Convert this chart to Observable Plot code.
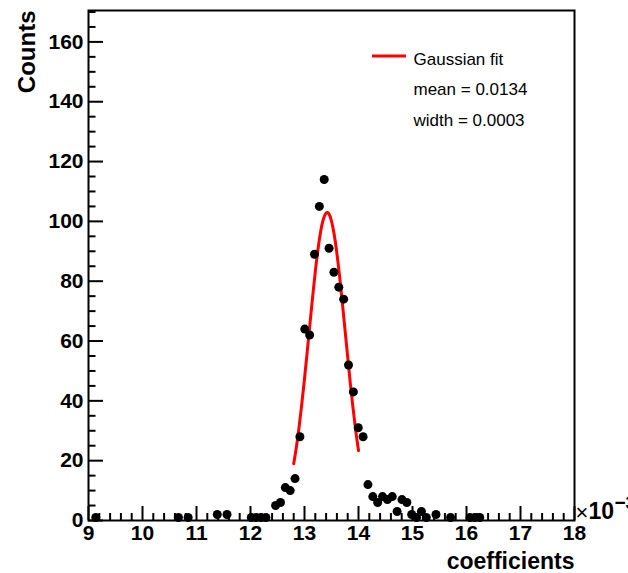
<!DOCTYPE html>
<html>
<head>
<meta charset="utf-8">
<script src="https://cdn.jsdelivr.net/npm/d3@7"></script>
<script src="https://cdn.jsdelivr.net/npm/@observablehq/plot@0.6"></script>
<style>
  html, body { margin: 0; padding: 0; background: #fff; }
  #chart svg { display: block; }
</style>
</head>
<body>
<div id="chart"></div>
<script>
// Histogram bin centres (x 10^-3) and counts
const binCenters = [9.135, 10.665, 10.845, 11.385, 11.565,
  12.015, 12.105, 12.195, 12.285, 12.465, 12.555, 12.645, 12.735, 12.825,
  12.915, 13.005, 13.095, 13.185, 13.275, 13.365, 13.455, 13.545, 13.635,
  13.725, 13.815, 13.905, 13.995, 14.085, 14.175, 14.265, 14.355, 14.445,
  14.535, 14.625, 14.715, 14.805, 14.895, 14.985, 15.075, 15.165, 15.255,
  15.435, 15.705, 16.065, 16.155, 16.245];
const counts = [1, 1, 1, 2, 2,
  1, 1, 1, 1, 5, 6, 11, 10, 14,
  28, 64, 62, 89, 105, 114, 91, 83, 78,
  74, 52, 43, 31, 28, 12, 8, 6, 8,
  7, 8, 3, 7, 6, 2, 1, 3, 1,
  2, 1, 1, 1, 1];

// Gaussian fit curve
const fitX = [12.80, 12.85, 12.90, 12.95, 13.00, 13.05, 13.10, 13.15, 13.20, 13.25,
  13.30, 13.35, 13.40, 13.45, 13.50, 13.55, 13.60, 13.65, 13.70, 13.75,
  13.80, 13.85, 13.90, 13.95, 14.00];
const fitY = [19.0, 24.6, 31.3, 39.0, 47.4, 56.4, 65.6, 74.7, 83.2, 90.7,
  96.7, 100.8, 102.8, 102.6, 100.1, 95.6, 89.3, 81.6, 72.9, 63.8,
  54.6, 45.6, 37.4, 29.9, 23.4];

const xTickValues = [9, 10, 11, 12, 13, 14, 15, 16, 17, 18];
const yTickValues = [0, 20, 40, 60, 80, 100, 120, 140, 160];
const legendLabels = ["Gaussian fit", "mean = 0.0134", "width = 0.0003"];
const xTitle = "coefficients";
const yTitle = "Counts";

const points = binCenters.map((x, i) => ({x, y: counts[i]}));
const fit = fitX.map((x, i) => ({x, y: fitY[i]}));

const xMinor = d3.range(9, 18.0001, 0.2).filter(v => Math.abs(v - Math.round(v)) > 1e-6);
const yMinor = d3.range(0, 170.0001, 5).filter(v => v % 20 !== 0);

const W = 628, H = 573;
const mL = 88, mR = 54, mT = 10, mB = 53;
const fw = W - mL - mR, fh = H - mT - mB;

const font = "'Liberation Sans', Arial, Helvetica, sans-serif";

const legendSwatch = (index, scales, values, dims) => {
  const g = d3.create("svg:g");
  g.append("line")
    .attr("x1", dims.marginLeft + 284).attr("x2", dims.marginLeft + 318)
    .attr("y1", dims.marginTop + 46).attr("y2", dims.marginTop + 46)
    .attr("stroke", "#ff0000").attr("stroke-width", 3);
  return g.node();
};

const chart = Plot.plot({
  width: W, height: H,
  marginLeft: mL, marginRight: mR, marginTop: mT, marginBottom: mB,
  x: {domain: [9, 18]},
  y: {domain: [0, 170.5]},
  style: {fontFamily: font, fontSize: "21px", background: "white", color: "black", overflow: "visible"},
  marks: [
    Plot.axisX(xTickValues, {tickSize: 0, tickPadding: 5, fontWeight: "bold", fontSize: 21, tickFormat: d => String(d), label: null}),
    Plot.axisY(yTickValues, {anchor: "left", tickSize: 0, tickPadding: 5, fontWeight: "bold", fontSize: 21, tickFormat: d => String(d), label: null}),
    Plot.tickX(xTickValues, {x: d => d, insetTop: fh - 14, stroke: "black", strokeWidth: 2}),
    Plot.tickX(xMinor, {x: d => d, insetTop: fh - 7, stroke: "black", strokeWidth: 2}),
    Plot.tickY(yTickValues, {y: d => d, insetRight: fw - 15, stroke: "black", strokeWidth: 2}),
    Plot.tickY(yMinor, {y: d => d, insetRight: fw - 7.5, stroke: "black", strokeWidth: 2}),
    Plot.frame({stroke: "black", strokeWidth: 2}),
    Plot.line(fit, {x: "x", y: "y", stroke: "#ff0000", strokeWidth: 3, curve: "natural"}),
    Plot.dot(points, {x: "x", y: "y", r: 4.5, fill: "black", stroke: null}),
    Plot.text([xTitle], {frameAnchor: "bottom-right", textAnchor: "end", lineAnchor: "bottom", dy: 48, fontSize: 23, fontWeight: "bold", fill: "black"}),
    Plot.text([yTitle], {frameAnchor: "top-left", rotate: -90, textAnchor: "end", lineAnchor: "bottom", dx: -54, dy: 0, fontSize: 24, fontWeight: "bold", fill: "black"}),
    Plot.text(["×"], {frameAnchor: "bottom-right", textAnchor: "start", lineAnchor: "bottom", dx: 1, dy: -1, fontSize: 22, fill: "black"}),
    Plot.text(["10"], {frameAnchor: "bottom-right", textAnchor: "start", lineAnchor: "bottom", dx: 14, dy: -2, fontSize: 23, fontWeight: "bold", fill: "black"}),
    Plot.text(["−3"], {frameAnchor: "bottom-right", textAnchor: "start", lineAnchor: "bottom", dx: 40, dy: -12, fontSize: 19, fontWeight: "bold", fill: "black"}),
    legendSwatch,
    Plot.text([legendLabels[0]], {frameAnchor: "top-left", textAnchor: "start", lineAnchor: "bottom", dx: 325, dy: 54, fontSize: 17, fill: "black"}),
    Plot.text([legendLabels[1]], {frameAnchor: "top-left", textAnchor: "start", lineAnchor: "bottom", dx: 325, dy: 84, fontSize: 17, fill: "black"}),
    Plot.text([legendLabels[2]], {frameAnchor: "top-left", textAnchor: "start", lineAnchor: "bottom", dx: 325, dy: 115, fontSize: 17, fill: "black"})
  ]
});
document.getElementById("chart").appendChild(chart);
</script>
</body>
</html>
